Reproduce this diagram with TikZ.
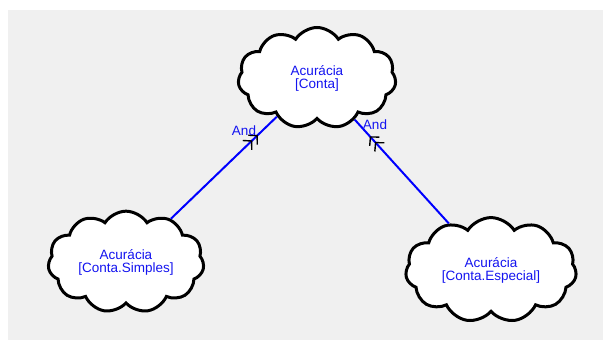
\documentclass[tikz,border=0pt]{standalone}
\usepackage{fontspec}
\setmainfont{Liberation Sans}
\usetikzlibrary{shapes.symbols,arrows.meta,decorations.markings}
\definecolor{bggray}{RGB}{240,240,240}
\definecolor{txtblue}{RGB}{20,20,240}
\begin{document}
\begin{tikzpicture}[x=1pt,y=-1pt,
  goal/.style={cloud, cloud puffs=11, cloud puff arc=115, aspect=1.6,
    draw=black, line width=3pt, fill=white, text=txtblue, align=center,
    font=\fontsize{13.5}{13}\selectfont, inner sep=0pt},
  andlink/.style={draw=blue, line width=2pt,
    postaction={decorate},
    decoration={markings, mark=at position #1 with {\arrow[black,line width=1.4pt]{Straight Barb[length=6pt,width=13pt] Straight Barb[length=6pt,width=13pt]}}}},
  andlbl/.style={text=txtblue, font=\fontsize{13.5}{13}\selectfont, inner sep=0pt}]
\useasboundingbox (0,0) rectangle (603,340);
\fill[white] (0,0) rectangle (603,340);
\fill[bggray] (8,10) rectangle (603,340);
\node[goal, minimum width=158pt, minimum height=101pt] (top) at (317,78) {Acurácia\\{}[Conta]};
\node[goal, minimum width=156pt, minimum height=93pt] (left) at (126,262) {Acurácia\\{}[Conta.Simples]};
\node[goal, minimum width=171pt, minimum height=94pt] (right) at (491,270) {Acurácia\\{}[Conta.Especial]};
\draw[andlink=0.82] (left) -- (top);
\draw[andlink=0.84] (right) -- (top);
\node[andlbl] (and1) at (244,131) {And};
\node[andlbl] (and2) at (375,125) {And};
\end{tikzpicture}
\end{document}
